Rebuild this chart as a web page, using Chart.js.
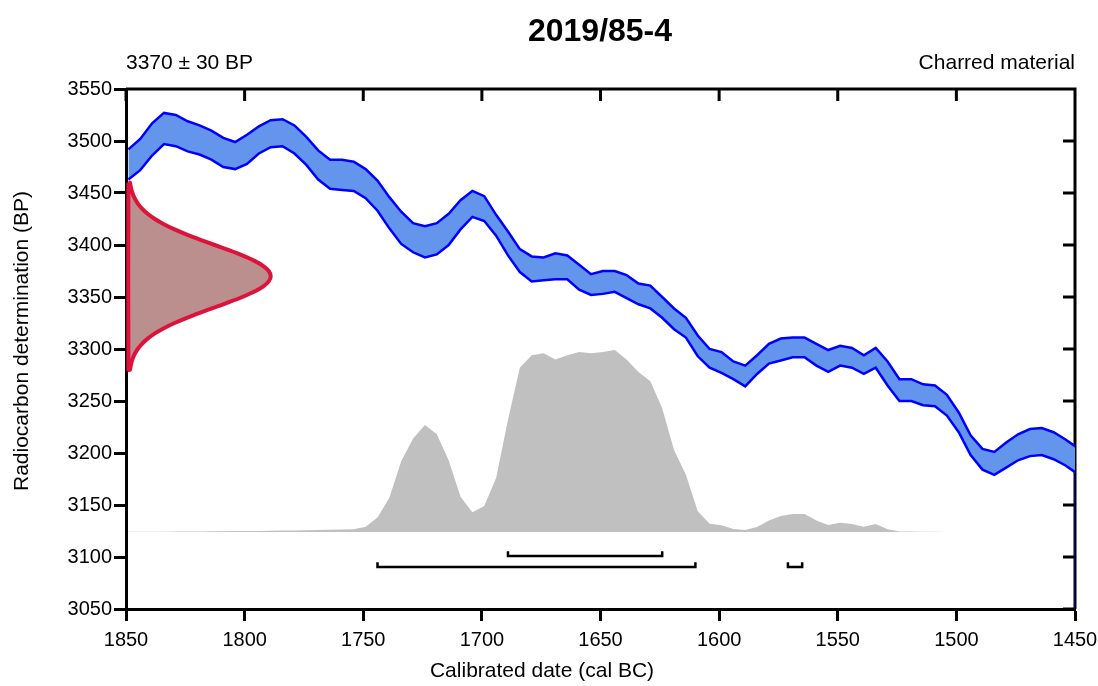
<!DOCTYPE html>
<html lang="en">
<head>
<meta charset="UTF-8">
<title>2019/85-4</title>
<script src="https://cdn.jsdelivr.net/npm/chart.js"></script>
<style>
    body {
        margin: 0;
        background: #fff;
    }
    #wrap {
        width: 1098px;
        height: 686px;
    }
</style>
</head>
<body>
<div id="wrap"><canvas id="calChart" width="1098" height="686"></canvas></div>
<script>
    // calibration curve grid (cal BC) and its 1-sigma envelope (BP)
    const calYears = [1849, 1844, 1839, 1834, 1829, 1824, 1819, 1814, 1809, 1804,
        1799, 1794, 1789, 1784, 1779, 1774, 1769, 1764, 1759, 1754,
        1749, 1744, 1739, 1734, 1729, 1724, 1719, 1714, 1709, 1704,
        1699, 1694, 1689, 1684, 1679, 1674, 1669, 1664, 1659, 1654,
        1649, 1644, 1639, 1634, 1629, 1624, 1619, 1614, 1609, 1604,
        1599, 1594, 1589, 1584, 1579, 1574, 1569, 1564, 1559, 1554,
        1549, 1544, 1539, 1534, 1529, 1524, 1519, 1514, 1509, 1504,
        1499, 1494, 1489, 1484, 1479, 1474, 1469, 1464, 1459, 1454, 1449];
    const calUpper = [3492, 3502, 3517, 3527, 3525, 3519, 3515, 3510, 3503, 3499,
        3506, 3514, 3520, 3521, 3515, 3504, 3491, 3482, 3482, 3480,
        3473, 3462, 3446, 3432, 3421, 3418, 3421, 3430, 3443, 3452,
        3447, 3429, 3413, 3396, 3389, 3388, 3392, 3390, 3381, 3372,
        3375, 3375, 3371, 3363, 3361, 3350, 3339, 3330, 3313, 3300,
        3297, 3288, 3284, 3294, 3305, 3310, 3311, 3311, 3305, 3299,
        3303, 3301, 3294, 3301, 3288, 3271, 3271, 3266, 3265, 3256,
        3239, 3217, 3204, 3201, 3210, 3218, 3223, 3224, 3220, 3213, 3205];
    const calLower = [3463, 3472, 3486, 3497, 3495, 3490, 3487, 3482, 3475, 3473,
        3478, 3488, 3494, 3495, 3488, 3477, 3463, 3454, 3453, 3452,
        3445, 3433, 3416, 3401, 3393, 3388, 3391, 3400, 3415, 3427,
        3423, 3409, 3390, 3374, 3365, 3366, 3367, 3367, 3357, 3352,
        3353, 3355, 3349, 3343, 3339, 3330, 3319, 3311, 3293, 3282,
        3277, 3271, 3264, 3276, 3286, 3289, 3292, 3292, 3284, 3278,
        3284, 3282, 3276, 3282, 3265, 3250, 3250, 3246, 3245, 3236,
        3220, 3198, 3184, 3179, 3186, 3193, 3197, 3198, 3194, 3188, 3180];

    // calibrated probability, drawn as a silhouette above probBase
    const probBase = 3124;
    const probTop = [3124.2, 3124.2, 3124.3, 3124.3, 3124.4, 3124.5, 3124.6, 3124.7, 3124.8, 3124.9,
        3125.0, 3125.1, 3125.2, 3125.4, 3125.6, 3125.8, 3126.0, 3126.2, 3126.4, 3126.7,
        3129, 3138, 3157, 3192, 3214, 3227, 3218, 3193, 3158, 3143,
        3149, 3176, 3232, 3282, 3294, 3296, 3290, 3294, 3297, 3296,
        3297, 3299, 3290, 3278, 3269, 3243, 3203, 3179, 3144, 3132,
        3130.5, 3127, 3126, 3128.8, 3135, 3139.4, 3141.3, 3141.3, 3135, 3130.8,
        3133, 3131.7, 3129, 3131.7, 3126.6, 3124.6, 3124.4, 3124.3, 3124.2, 3124.1,
        3124.05, 3124, 3124, 3124, 3124, 3124, 3124, 3124, 3124, 3124, 3124];

    // radiocarbon determination 3370 ± 30 BP, width in years from the left axis
    const dateLevels = [3460, 3455, 3450, 3445, 3440, 3435, 3430, 3425, 3420, 3415,
        3410, 3405, 3400, 3395, 3390, 3385, 3380, 3375, 3370, 3365,
        3360, 3355, 3350, 3345, 3340, 3335, 3330, 3325, 3320, 3315,
        3310, 3305, 3300, 3295, 3290, 3285, 3280];
    const dateWidths = [0.67, 1.09, 1.71, 2.64, 3.94, 5.74, 8.12, 11.17, 14.96, 19.48,
        24.66, 30.38, 36.39, 42.40, 48.04, 52.95, 56.76, 59.17, 60.0, 59.17,
        56.76, 52.95, 48.04, 42.40, 36.39, 30.38, 24.66, 19.48, 14.96, 11.17,
        8.12, 5.74, 3.94, 2.64, 1.71, 1.09, 0.67];
    const dateBaseYear = 1849;

    // calibrated ranges (cal BC)
    const range68 = [[1689, 1624]];
    const range95 = [[1744, 1610], [1571, 1565]];

    const FONT = '"Liberation Sans", Arial, sans-serif';
    const AXIS_W = 3;

    function toPoints(xs, ys) {
        return xs.map((x, i) => ({ x: x, y: ys[i] }));
    }

    // bracket: horizontal bar with short upturned ends
    function bracket(r, level) {
        return [
            { x: r[0], y: level + 4.5 }, { x: r[0], y: level },
            { x: r[1], y: level }, { x: r[1], y: level + 4.5 }
        ];
    }

    const datePoints = [{ x: dateBaseYear, y: dateLevels[0] }];
    dateLevels.forEach((lv, i) => datePoints.push({ x: dateBaseYear - dateWidths[i], y: lv }));
    datePoints.push({ x: dateBaseYear, y: dateLevels[dateLevels.length - 1] });
    datePoints.push({ x: dateBaseYear, y: dateLevels[0] });

    const rangeSets = [];
    range68.forEach(r => rangeSets.push(bracket(r, 3101)));
    range95.forEach(r => rangeSets.push(bracket(r, 3090.5)));

    const datasets = [];
    rangeSets.forEach(pts => datasets.push({
        data: pts, borderColor: '#000', borderWidth: 2.5, pointRadius: 0,
        fill: false, tension: 0, borderJoinStyle: 'miter', order: 0
    }));
    datasets.push({
        data: datePoints, borderColor: '#DC143C', backgroundColor: '#BC8F8F',
        borderWidth: 4, pointRadius: 0, fill: 'shape', tension: 0.2, order: 1
    });
    datasets.push({
        data: toPoints(calYears, calLower), borderColor: '#0000FF',
        borderWidth: 2.5, pointRadius: 0, fill: false, tension: 0, order: 2
    });
    datasets.push({
        data: toPoints(calYears, calUpper), borderColor: '#0000FF', backgroundColor: '#6495ED',
        borderWidth: 2.5, pointRadius: 0, fill: '-1', tension: 0, order: 3
    });
    // envelope edge running down the right axis
    datasets.push({
        data: [{ x: 1450, y: calLower[calLower.length - 1] }, { x: 1450, y: 3050 }],
        borderColor: '#00008B', borderWidth: 2, pointRadius: 0, fill: false, order: 4
    });
    datasets.push({
        data: toPoints(calYears, probTop), borderWidth: 0, borderColor: 'rgba(0,0,0,0)',
        backgroundColor: '#C0C0C0', pointRadius: 0, fill: { value: probBase }, tension: 0, order: 5
    });

    // top/right frame with inward ticks
    const framePlugin = {
        id: 'frame',
        beforeDatasetsDraw(chart) {
            const { ctx, chartArea: a, scales } = chart;
            ctx.save();
            ctx.strokeStyle = '#000';
            ctx.lineWidth = AXIS_W;
            ctx.beginPath();
            ctx.moveTo(a.left, a.top);
            ctx.lineTo(a.right, a.top);
            ctx.lineTo(a.right, a.bottom);
            scales.x.ticks.forEach(t => {
                const px = scales.x.getPixelForValue(t.value);
                ctx.moveTo(px, a.top);
                ctx.lineTo(px, a.top + 12);
            });
            scales.y.ticks.forEach(t => {
                const py = scales.y.getPixelForValue(t.value);
                ctx.moveTo(a.right, py);
                ctx.lineTo(a.right - 12, py);
            });
            ctx.stroke();
            ctx.restore();
        }
    };

    // titles and captions
    const textPlugin = {
        id: 'texts',
        afterDraw(chart) {
            const { ctx, chartArea: a } = chart;
            ctx.save();
            ctx.fillStyle = '#000';
            ctx.textBaseline = 'alphabetic';

            ctx.font = 'bold 32px ' + FONT;
            ctx.textAlign = 'center';
            ctx.fillText('2019/85-4', 600, 41);

            ctx.font = '21px ' + FONT;
            ctx.textAlign = 'left';
            ctx.fillText('3370 ± 30 BP', a.left, 69);
            ctx.textAlign = 'right';
            ctx.fillText('Charred material', a.right, 69);

            ctx.textAlign = 'center';
            ctx.fillText('Calibrated date (cal BC)', 542, 677);

            ctx.translate(28, 341);
            ctx.rotate(-Math.PI / 2);
            ctx.fillText('Radiocarbon determination (BP)', 0, 0);
            ctx.restore();
        }
    };

    const plainTick = v => String(v);

    const ctx = document.getElementById('calChart').getContext('2d');
    const calChart = new Chart(ctx, {
        type: 'line',
        data: { datasets: datasets },
        plugins: [framePlugin, textPlugin],
        options: {
            responsive: false,
            animation: false,
            events: [],
            layout: { padding: { top: 89, right: 23, bottom: 0, left: 0 } },
            plugins: {
                legend: { display: false },
                title: { display: false },
                tooltip: { enabled: false }
            },
            scales: {
                x: {
                    type: 'linear',
                    reverse: true,
                    min: 1450,
                    max: 1850,
                    afterFit: s => { s.height = 77; s.paddingLeft = 0; s.paddingRight = 0; },
                    ticks: {
                        stepSize: 50,
                        color: '#000',
                        padding: 7,
                        maxRotation: 0,
                        callback: plainTick,
                        font: { family: FONT, size: 20 }
                    },
                    grid: { drawOnChartArea: false, drawTicks: true, tickLength: 12, tickWidth: AXIS_W, tickColor: '#000' },
                    border: { display: true, color: '#000', width: AXIS_W }
                },
                y: {
                    type: 'linear',
                    min: 3050,
                    max: 3550,
                    afterFit: s => { s.width = 126; s.paddingTop = 0; s.paddingBottom = 0; },
                    ticks: {
                        stepSize: 50,
                        color: '#000',
                        padding: 2,
                        callback: plainTick,
                        font: { family: FONT, size: 20 }
                    },
                    grid: { drawOnChartArea: false, drawTicks: true, tickLength: 12, tickWidth: AXIS_W, tickColor: '#000' },
                    border: { display: true, color: '#000', width: AXIS_W }
                }
            }
        }
    });
</script>
</body>
</html>
